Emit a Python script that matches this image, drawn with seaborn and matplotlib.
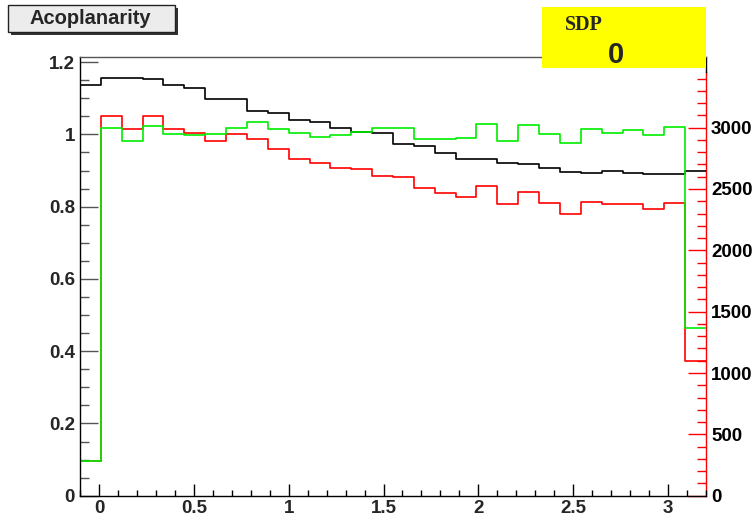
import numpy as np
import pandas as pd
import matplotlib
matplotlib.use("Agg")
import matplotlib.pyplot as plt
from matplotlib.patches import Rectangle
from matplotlib.ticker import MultipleLocator, FixedLocator, FixedFormatter
import seaborn as sns

# ---------------- data ----------------
x_min, x_max, n_bins = -0.1, 3.2, 30
black_vals = [1.138, 1.155, 1.156, 1.152, 1.136, 1.127, 1.099, 1.099, 1.065, 1.058,
              1.039, 1.035, 1.018, 1.007, 1.004, 0.972, 0.967, 0.949, 0.933, 0.933,
              0.921, 0.918, 0.907, 0.895, 0.893, 0.899, 0.893, 0.889, 0.889, 0.899]
green_vals = [0.097, 1.018, 0.982, 1.022, 1.000, 0.997, 1.000, 1.019, 1.035, 1.015,
              1.003, 0.994, 0.997, 1.007, 1.018, 1.018, 0.986, 0.986, 0.989, 1.028,
              0.982, 1.025, 1.000, 0.976, 1.015, 1.003, 1.012, 0.998, 1.020, 0.463]
red_vals = [286, 3094, 2986, 3094, 2988, 2958, 2893, 2945, 2905, 2823,
            2744, 2709, 2671, 2663, 2606, 2595, 2510, 2465, 2432, 2527,
            2377, 2478, 2388, 2298, 2391, 2375, 2380, 2334, 2385, 1098]
left_ticks = [0, 0.2, 0.4, 0.6, 0.8, 1.0, 1.2]
left_labels = ["0", "0.2", "0.4", "0.6", "0.8", "1", "1.2"]
x_ticks = [0, 0.5, 1, 1.5, 2, 2.5, 3]
x_labels = ["0", "0.5", "1", "1.5", "2", "2.5", "3"]
right_ticks = [0, 500, 1000, 1500, 2000, 2500, 3000]
right_labels = ["0", "500", "1000", "1500", "2000", "2500", "3000"]
title_text = "Acoplanarity"
box_label = "SDP"
box_value = "0"

edges = np.linspace(x_min, x_max, n_bins + 1)
centers = 0.5 * (edges[:-1] + edges[1:])
bin_list = edges.tolist()
df = pd.DataFrame({"x": centers, "black": black_vals, "green": green_vals, "red": red_vals})

left_top, right_top, right_axis_end = 1.215, 3578, 3450

# ---------------- style ----------------
sns.set_style("white")
plt.rcParams["font.family"] = ["Liberation Sans", "DejaVu Sans"]
plt.rcParams["font.weight"] = "bold"

PT = 0.72  # points per pixel at dpi 100

fig = plt.figure(figsize=(7.56, 5.18), dpi=100)
ax = fig.add_axes([80 / 756, 1 - 495.7 / 518, (706 - 80) / 756, (495.7 - 56.7) / 518])
ax2 = ax.twinx()
ax.set_zorder(2)
ax2.set_zorder(1)
ax.patch.set_visible(False)
ax2.patch.set_visible(False)

lw = 1.2
sns.histplot(data=df, x="x", weights="red", bins=bin_list, element="step", fill=False,
             color="#ff0000", linewidth=lw, ax=ax2)
sns.histplot(data=df, x="x", weights="black", bins=bin_list, element="step", fill=False,
             color="black", linewidth=lw, ax=ax)
sns.histplot(data=df, x="x", weights="green", bins=bin_list, element="step", fill=False,
             color="#00ee00", linewidth=lw, ax=ax)

ax.set_xlim(x_min, x_max)
ax.set_ylim(0, left_top)
ax2.set_ylim(0, right_top)
for a in (ax, ax2):
    a.set_xlabel("")
    a.set_ylabel("")

# spines
for a in (ax, ax2):
    for s in a.spines.values():
        s.set_linewidth(1.0)
ax.spines["top"].set_color("#555555")
ax.spines["left"].set_color("black")
ax.spines["bottom"].set_color("black")
ax.spines["right"].set_color("black")
ax.spines["right"].set_bounds(right_axis_end / right_top * left_top, left_top)
ax2.spines["top"].set_visible(False)
ax2.spines["left"].set_visible(False)
ax2.spines["bottom"].set_visible(False)
ax2.spines["right"].set_color("#ff0000")
ax2.spines["right"].set_bounds(0, right_axis_end)

LS = 13.5
# left axis ticks
ax.yaxis.set_major_locator(FixedLocator(left_ticks))
ax.yaxis.set_major_formatter(FixedFormatter(left_labels))
ax.yaxis.set_minor_locator(MultipleLocator(0.05))
ax.tick_params(axis="y", which="major", direction="in", length=18 * PT, width=1,
               color="#555555", labelsize=LS, pad=5 * PT, left=True, right=False)
ax.tick_params(axis="y", which="minor", direction="in", length=9 * PT, width=1,
               color="#555555", left=True, right=False)

# x axis ticks
ax.xaxis.set_major_locator(FixedLocator(x_ticks))
ax.xaxis.set_major_formatter(FixedFormatter(x_labels))
ax.xaxis.set_minor_locator(MultipleLocator(0.1))
ax.tick_params(axis="x", which="major", direction="in", length=12 * PT, width=1,
               color="black", labelsize=LS, pad=4 * PT, bottom=True, top=False)
ax.tick_params(axis="x", which="minor", direction="in", length=6 * PT, width=1,
               color="black", bottom=True, top=False)

# right axis ticks
ax2.yaxis.set_major_locator(FixedLocator(right_ticks))
ax2.yaxis.set_major_formatter(FixedFormatter(right_labels))
ax2.yaxis.set_minor_locator(FixedLocator(list(range(0, 3401, 100))))
ax2.tick_params(axis="y", which="major", direction="in", length=18 * PT, width=1,
                color="#ff0000", labelsize=LS, pad=5 * PT, labelcolor="black",
                right=True, left=False)
ax2.tick_params(axis="y", which="minor", direction="in", length=9 * PT, width=1,
                color="#ff0000", right=True, left=False)
for lab in ax.get_xticklabels() + ax.get_yticklabels() + ax2.get_yticklabels():
    lab.set_fontweight("bold")

W, H = 756.0, 518.0

def fx(px):
    return px / W

def fy(py):
    return 1 - py / H

# title box with shadow
fig.patches.append(Rectangle((fx(11), fy(34.5)), fx(178) - fx(11), fy(8) - fy(34.5),
                             transform=fig.transFigure, facecolor="#333333",
                             edgecolor="none", zorder=5))
fig.patches.append(Rectangle((fx(8), fy(31.5)), fx(175) - fx(8), fy(5) - fy(31.5),
                             transform=fig.transFigure, facecolor="#ececec",
                             edgecolor="#222222", linewidth=1, zorder=6))
fig.text(fx(90), fy(18.5), title_text, ha="center", va="center", fontsize=14.5,
         fontweight="bold", zorder=7)

# yellow stat box
fig.patches.append(Rectangle((fx(542.3), fy(67.7)), fx(706) - fx(542.3), fy(7.3) - fy(67.7),
                             transform=fig.transFigure, facecolor="#ffff00",
                             edgecolor="none", zorder=5))
fig.text(fx(565), fy(24.5), box_label, ha="left", va="center", fontsize=14.5,
         fontweight="bold", family=["Liberation Serif", "DejaVu Serif"], zorder=7)
fig.text(fx(616), fy(55), box_value, ha="center", va="center", fontsize=21,
         fontweight="bold", zorder=7)

fig.savefig("out.png", dpi=100, facecolor="white")
